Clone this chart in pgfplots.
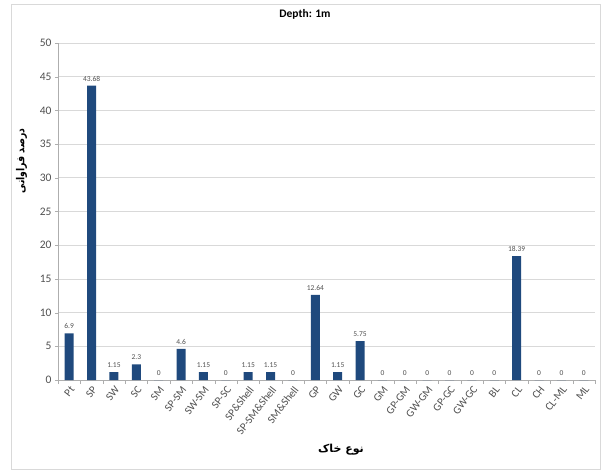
\documentclass[border=0pt]{standalone}
\usepackage{fontspec}
\setmainfont{Carlito}
\newfontfamily\fafont[Script=Arabic]{DejaVu Sans}
\newfontfamily\fanarrow[Script=Arabic, FakeStretch=0.85]{DejaVu Sans}
\TeXXeTstate=1
\usepackage{pgfplots}
\pgfplotsset{compat=1.18}
\usetikzlibrary{calc}

\definecolor{barblue}{RGB}{31,73,125}
\definecolor{gridgray}{RGB}{217,217,217}
\definecolor{labelgray}{RGB}{80,80,80}

\begin{document}
\begin{tikzpicture}
\begin{axis}[
  name=ax,
  scale only axis,
  width=537pt, height=337pt,
  ymin=0, ymax=50,
  ytick={0,5,...,50},
  xmin=-0.5, xmax=23.5,
  xtick={0,...,23},
  xticklabels={Pt,SP,SW,SC,SM,SP-SM,SW-SM,SP-SC,SP\&Shell,SP-SM\&Shell,SM\&Shell,GP,GW,GC,GM,GP-GM,GW-GM,GP-GC,GW-GC,BL,CL,CH,CL-ML,ML},
  minor xtick={-0.5,0.5,...,23.5},
  /pgf/number format/assume math mode=true,
  axis x line*=bottom,
  axis y line*=left,
  axis line style={gridgray!80!black, line width=0.6pt},
  every outer x axis line/.append style={-},
  every outer y axis line/.append style={-},
  tick align=outside,
  major tick length=3pt,
  minor tick length=4pt,
  x tick style={draw=none},
  minor x tick style={draw=gridgray!80!black},
  y tick style={draw=gridgray!80!black},
  ymajorgrids,
  grid style={gridgray, line width=0.6pt},
  tick label style={text=labelgray},
  x tick label style={rotate=52, anchor=north east, font=\fontsize{11}{12}\selectfont, inner sep=1.5pt},
  y tick label style={font=\fontsize{11.5}{13}\selectfont},
  title={Depth: 1m},
  title style={at={(rel axis cs:0.46,1)}, anchor=center, yshift=23pt, font=\bfseries\fontsize{11.5}{13}\selectfont},
  xlabel={\fafont\bfseries\beginR نوع خاک\endR},
  xlabel style={at={(rel axis cs:0.527,0)}, anchor=center, yshift=-70pt, font=\fontsize{11}{13}\selectfont},
  ylabel={\fanarrow\bfseries\beginR درصد فراوانی\endR},
  ylabel style={at={(rel axis cs:-0.068,0.65)}, anchor=center, font=\fontsize{11}{13}\selectfont},
  ybar,
  bar width=9pt,
  nodes near coords={\pgfmathprintnumber[fixed, precision=2]{\pgfplotspointmeta}},
  every node near coord/.append style={font=\fontsize{7.5}{8}\selectfont, text=labelgray, yshift=1pt},
]
\addplot[fill=barblue, draw=none] coordinates {
  (0,6.9) (1,43.68) (2,1.15) (3,2.3) (4,0) (5,4.6) (6,1.15) (7,0)
  (8,1.15) (9,1.15) (10,0) (11,12.64) (12,1.15) (13,5.75) (14,0) (15,0)
  (16,0) (17,0) (18,0) (19,0) (20,18.39) (21,0) (22,0) (23,0)
};
\end{axis}
% chart frame and page margin around it
\draw[gridgray, line width=0.8pt] ($(ax.south west)+(-47pt,-89pt)$) rectangle ($(ax.north east)+(5pt,39pt)$);
\path ($(ax.south west)+(-58pt,-91pt)$) rectangle ($(ax.north east)+(10pt,43pt)$);
\end{tikzpicture}
\end{document}
